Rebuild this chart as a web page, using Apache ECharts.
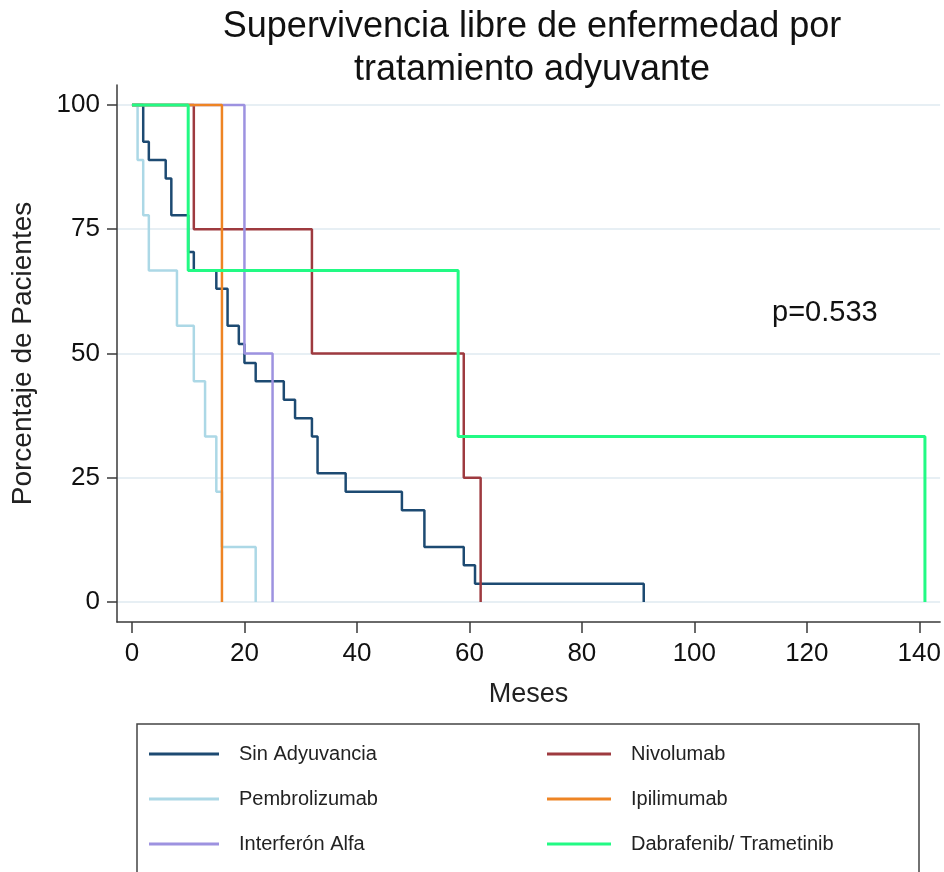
<!DOCTYPE html>
<html>
<head>
<meta charset="utf-8">
<script src="https://cdn.jsdelivr.net/npm/echarts@6/dist/echarts.min.js"></script>
<style>
  html, body { margin: 0; padding: 0; background: #fff; }
  #chart { width: 944px; height: 872px; }
</style>
</head>
<body>
<div id="chart"></div>
<script>
// Kaplan-Meier style step curves: months of each event and survival (%) after it
const sinAdyMonths = [0, 2, 3, 6, 7, 10, 11, 15, 17, 19, 20, 22, 27, 29, 32, 33, 38, 48, 52, 59, 61, 91];
const sinAdySurv   = [100, 92.6, 88.9, 85.2, 77.8, 70.4, 66.7, 63.0, 55.6, 51.9, 48.1, 44.4, 40.7, 37.0, 33.3, 25.9, 22.2, 18.5, 11.1, 7.4, 3.7, 0];

const pembroMonths = [0, 1, 2, 3, 8, 11, 13, 15, 16, 22];
const pembroSurv   = [100, 88.9, 77.8, 66.7, 55.6, 44.4, 33.3, 22.2, 11.1, 0];

const interfMonths = [0, 20, 25];
const interfSurv   = [100, 50, 0];

const nivoMonths = [0, 11, 32, 59, 62];
const nivoSurv   = [100, 75, 50, 25, 0];

const ipiMonths = [0, 16];
const ipiSurv   = [100, 0];

const dabraMonths = [0, 10, 58, 141];
const dabraSurv   = [100, 66.7, 33.3, 0];

const xTicks = [0, 20, 40, 60, 80, 100, 120, 140];
const yTicks = [0, 25, 50, 75, 100];

const pairs = (xs, ys) => xs.map((x, i) => [x, ys[i]]);

// drawing order: later curves sit on top
const curves = [
  { name: 'Sin Adyuvancia', data: pairs(sinAdyMonths, sinAdySurv), color: '#1d4a72', width: 2.5 },
  { name: 'Pembrolizumab', data: pairs(pembroMonths, pembroSurv), color: '#acd8e6', width: 2.5 },
  { name: 'Nivolumab', data: pairs(nivoMonths, nivoSurv), color: '#9e3a3f', width: 2.5 },
  { name: 'Interferón Alfa', data: pairs(interfMonths, interfSurv), color: '#9d92e0', width: 2.5 },
  { name: 'Ipilimumab', data: pairs(ipiMonths, ipiSurv), color: '#ee8424', width: 2.5 },
  { name: 'Dabrafenib/ Trametinib', data: pairs(dabraMonths, dabraSurv), color: '#22fa84', width: 3 }
];

const tickFont = 'Liberation Sans Narrow, Arial Narrow, Liberation Sans, sans-serif';
const textFont = 'Liberation Sans, Arial, sans-serif';
const axisColor = '#3a3a3a';

const legendText = {
  fontFamily: textFont,
  fontSize: 20,
  color: '#222',
  lineHeight: 24,
  padding: [0, 0, 0, 15]
};

const chart = echarts.init(document.getElementById('chart'), null, { renderer: 'canvas' });

chart.setOption({
  animation: false,
  backgroundColor: '#ffffff',
  grid: { left: 117, right: 2, top: 85, bottom: 250, containLabel: false },
  xAxis: {
    type: 'value',
    min: -2.66,
    max: 143.7,
    name: 'Meses',
    nameLocation: 'middle',
    nameGap: 59,
    nameTextStyle: { fontFamily: textFont, fontSize: 27, color: '#222' },
    axisLine: { show: true, onZero: false, lineStyle: { color: axisColor, width: 1.5 } },
    axisTick: { show: true, length: 11, lineStyle: { color: axisColor, width: 1.5 }, customValues: xTicks },
    axisLabel: { customValues: xTicks, margin: 19, fontFamily: tickFont, fontSize: 26, color: '#111' },
    splitLine: { show: false }
  },
  yAxis: {
    type: 'value',
    min: -4,
    max: 104,
    name: 'Porcentaje de Pacientes',
    nameLocation: 'middle',
    nameGap: 80,
    nameRotate: 90,
    nameTextStyle: { fontFamily: textFont, fontSize: 28, color: '#222' },
    axisLine: { show: true, onZero: false, lineStyle: { color: axisColor, width: 1.5 } },
    axisTick: { show: true, length: 10, lineStyle: { color: axisColor, width: 1.5 }, customValues: yTicks },
    axisLabel: { customValues: yTicks, margin: 17, fontFamily: tickFont, fontSize: 26, color: '#111' },
    splitLine: { show: true, lineStyle: { color: '#dfeaf0', width: 1.5 } }
  },
  legend: [
    {
      orient: 'vertical',
      left: 144,
      top: 737,
      itemWidth: 70,
      itemHeight: 3,
      itemGap: 21,
      icon: 'rect',
      data: ['Sin Adyuvancia', 'Pembrolizumab', 'Interferón Alfa'],
      textStyle: legendText,
      selectedMode: false
    },
    {
      orient: 'vertical',
      left: 542,
      top: 737,
      itemWidth: 64,
      itemHeight: 3,
      itemGap: 21,
      icon: 'rect',
      data: ['Nivolumab', 'Ipilimumab', 'Dabrafenib/ Trametinib'],
      textStyle: legendText,
      selectedMode: false
    }
  ],
  graphic: [
    {
      type: 'text',
      x: 532,
      y: 6,
      style: {
        text: 'Supervivencia libre de enfermedad por\ntratamiento adyuvante',
        fontFamily: textFont,
        fontSize: 36,
        lineHeight: 43,
        fill: '#111',
        textAlign: 'center',
        textVerticalAlign: 'top'
      }
    },
    {
      type: 'text',
      x: 772,
      y: 313,
      style: {
        text: 'p=0.533',
        fontFamily: textFont,
        fontSize: 29,
        fill: '#111',
        textAlign: 'left',
        textVerticalAlign: 'middle'
      }
    },
    {
      type: 'rect',
      shape: { x: 137, y: 724, width: 782, height: 152 },
      style: { fill: 'none', stroke: '#444', lineWidth: 1.5 },
      z: 0
    }
  ],
  series: curves.map(c => ({
    name: c.name,
    type: 'line',
    step: 'end',
    symbol: 'none',
    data: c.data,
    color: c.color,
    itemStyle: { color: c.color },
    lineStyle: { color: c.color, width: c.width },
    emphasis: { disabled: true }
  }))
});
</script>
</body>
</html>
